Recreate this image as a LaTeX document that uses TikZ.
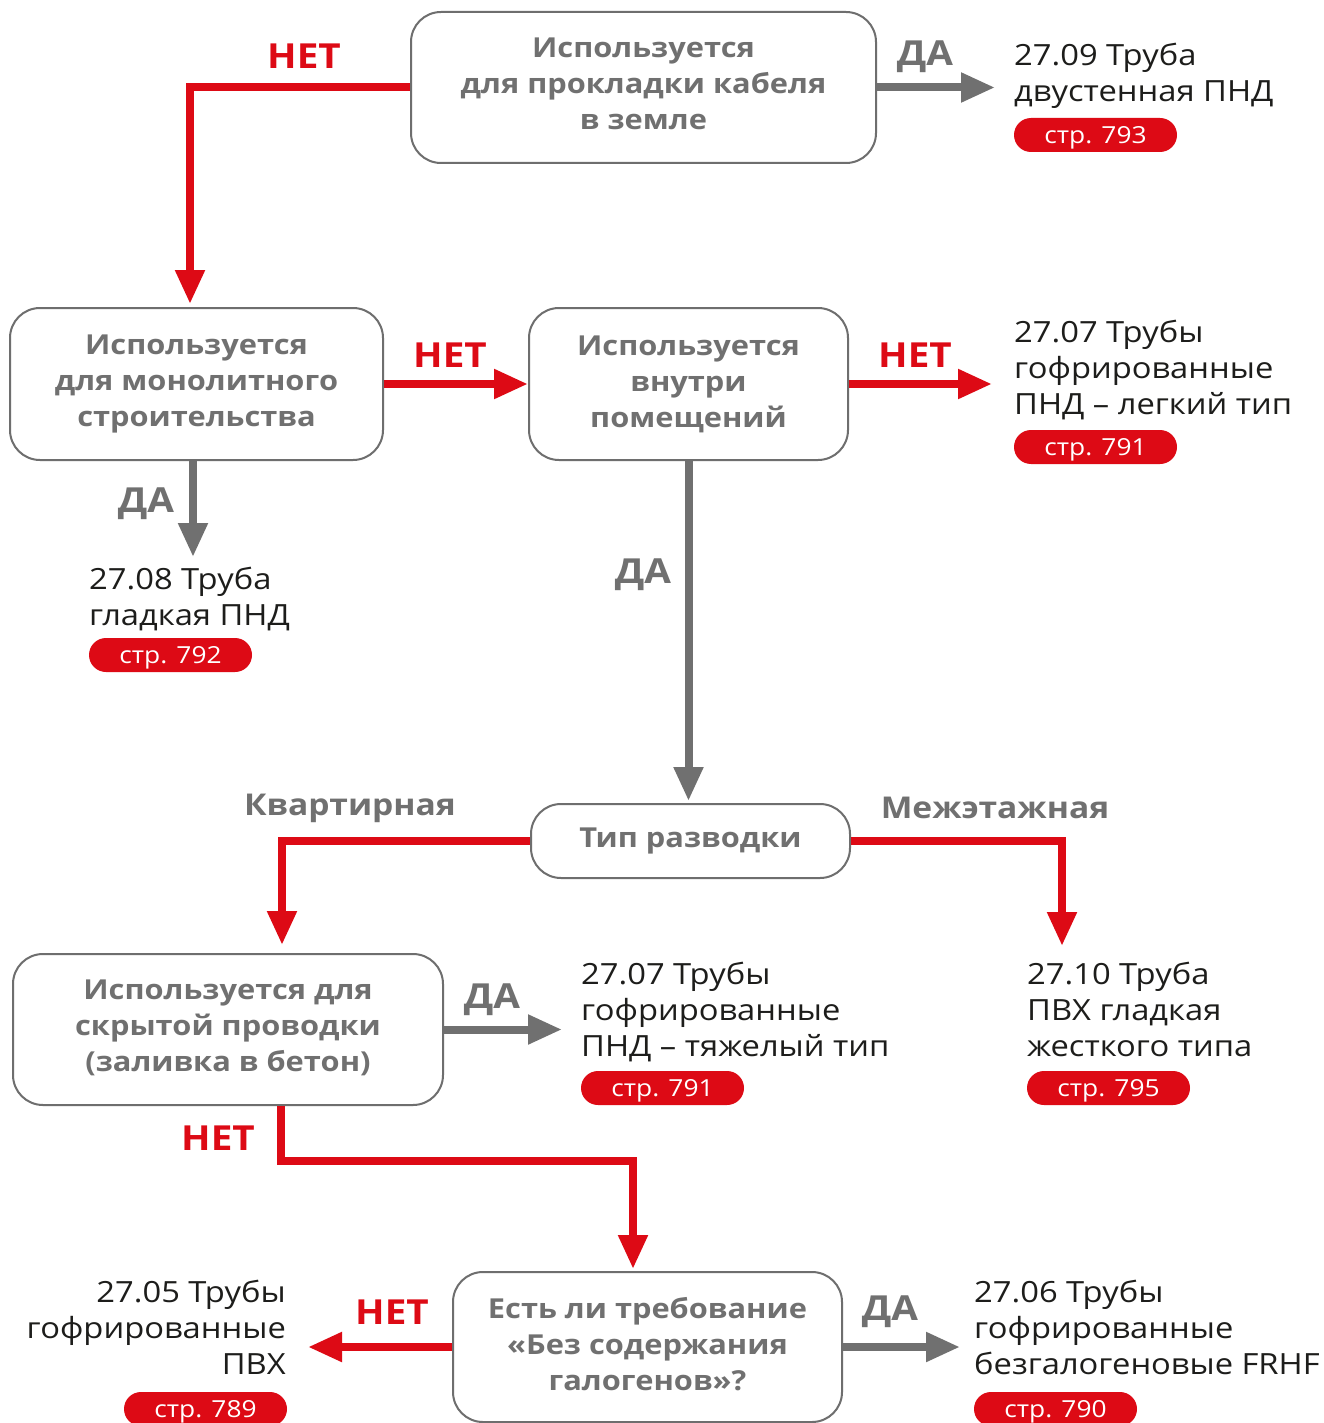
\documentclass[tikz,border=0pt]{standalone}
\usepackage{fontspec}
\setmainfont{Open Sans}[FakeStretch=1.12]
\usetikzlibrary{arrows.meta,calc}
\definecolor{rd}{HTML}{DD0A15}
\definecolor{gr}{HTML}{707070}
\definecolor{bx}{HTML}{6E6E6E}
\definecolor{tx}{HTML}{1D1D1B}
\newcommand{\mydeep}{\rule[-7pt]{0pt}{0pt}}
\begin{document}
\begin{tikzpicture}[x=1pt,y=-1pt,
 qbox/.style={draw=bx,line width=2pt,rounded corners=30pt,align=center,text=gr,font=\bfseries\fontsize{27.5}{36}\selectfont,inner sep=0pt},
 prod/.style={align=left,text=tx,font=\fontsize{29.2}{36}\selectfont,inner sep=0pt,anchor=base west},
 pill/.style={fill=rd,text=white,rounded corners=17pt,minimum width=163pt,minimum height=34pt,inner sep=0pt,text height=16.6pt,text depth=0pt,font=\fontsize{23.5}{23}\selectfont},
 yes/.style={draw=gr,line width=8pt,-{Triangle[length=34pt,width=28pt]}},
 no/.style={draw=rd,line width=8pt,-{Triangle[length=34pt,width=28pt]}},
 lyes/.style={text=gr,font=\bfseries\fontsize{34.5}{35}\selectfont,inner sep=0pt},
 lno/.style={text=rd,font=\bfseries\fontsize{34.5}{35}\selectfont,inner sep=0pt},
 lbl/.style={text=gr,font=\bfseries\fontsize{30}{30}\selectfont,inner sep=0pt}]
\useasboundingbox (0,0) rectangle (1324,1423);
\fill[white] (0,0) rectangle (1324,1423);

% question boxes
\node[qbox,minimum width=465pt,minimum height=151pt] (b1) at (643.5,87.5) {Используется\\для прокладки кабеля\\в земле\mydeep};
\node[qbox,minimum width=373pt,minimum height=152pt] (b2) at (196.5,384) {Используется\\для монолитного\\строительства\mydeep};
\node[qbox,minimum width=319pt,minimum height=152pt] (b3) at (688.5,384) {Используется\\внутри\\помещений\rule[-4pt]{0pt}{0pt}};
\node[qbox,minimum width=319pt,minimum height=74pt] (b4) at (690.5,841) {Тип разводки};
\node[qbox,minimum width=430pt,minimum height=151pt] (b5) at (228,1029.5) {Используется для\\скрытой проводки\\(заливка в бетон)\mydeep};
\node[qbox,minimum width=389pt,minimum height=150pt] (b6) at (647.5,1347) {Есть ли требование\\«Без содержания\\галогенов»?\mydeep};

% products (anchor = baseline of last line)
\node[prod] (p1) at (1014,102) {27.09 Труба\\двустенная ПНД};
\node[pill] (s1) at (1095.5,135) {стр. 793};
\node[prod] (p2) at (1014,414) {27.07 Трубы\\гофрированные\\ПНД – легкий тип};
\node[pill] (s2) at (1095.5,447) {стр. 791};
\node[prod] (p3) at (89,625) {27.08 Труба\\гладкая ПНД};
\node[pill] (s3) at (170.5,655) {стр. 792};
\node[prod] (p4) at (581,1056) {27.07 Трубы\\гофрированные\\ПНД – тяжелый тип};
\node[pill] (s4) at (662.5,1088) {стр. 791};
\node[prod] (p5) at (1027,1056) {27.10 Труба\\ПВХ гладкая\\жесткого типа};
\node[pill] (s5) at (1108.5,1088) {стр. 795};
\node[prod,align=right,anchor=base east] (p6) at (286,1374) {27.05 Трубы\\гофрированные\\ПВХ};
\node[pill] (s6) at (205.5,1409) {стр. 789};
\node[prod] (p7) at (974,1374) {27.06 Трубы\\гофрированные\\безгалогеновые FRHF};
\node[pill] (s7) at (1055.5,1409) {стр. 790};

% arrow tips (free ends)
\coordinate (t1) at (995,87);
\coordinate (t2) at (992,383);
\coordinate (t3) at (193,557);
\coordinate (t4) at (1062,946);
\coordinate (t5) at (562,1032);
\coordinate (t6) at (308,1344);
\coordinate (t7) at (960,1350);

% connectors
\draw[yes] (b1.east) -- (b1.east -| t1);
\draw[no] (b1.west) -| ([xshift=-6.5pt,yshift=3pt]b2.north);
\draw[no] (b2.east) -- (b3.west);
\draw[no] (b3.east) -- (b3.east -| t2);
\draw[yes] ([xshift=-3.5pt]b2.south) -- (t3);
\draw[yes] (b3.south) -- ([xshift=-2pt,yshift=2pt]b4.north);
\draw[no] (b4.west) -| ([xshift=54pt,yshift=8pt]b5.north);
\draw[no] (b4.east) -| (t4);
\draw[yes] (b5.east) -- (b5.east -| t5);
\draw[no] ([xshift=53pt]b5.south) -- ++(0,55) -| ([xshift=-14.5pt,yshift=2pt]b6.north);
\draw[no] (b6.west) -- (b6.west -| t6);
\draw[yes] (b6.east) -- (b6.east -| t7);

% labels
\node[lno] (n1) at (304,56) {НЕТ};
\node[lyes] (y1) at (925,57) {ДА};
\node[lno] (n2) at (450,355) {НЕТ};
\node[lno] (n3) at (915,355) {НЕТ};
\node[lyes] (y2) at (146,504) {ДА};
\node[lyes] (y3) at (643,575) {ДА};
\node[lbl] (k1) at (350,808) {Квартирная};
\node[lbl] (k2) at (995,808) {Межэтажная};
\node[lyes] (y4) at (492,1000) {ДА};
\node[lno] (n4) at (218,1138) {НЕТ};
\node[lno] (n5) at (392,1312) {НЕТ};
\node[lyes] (y5) at (890,1312) {ДА};
\end{tikzpicture}
\end{document}
